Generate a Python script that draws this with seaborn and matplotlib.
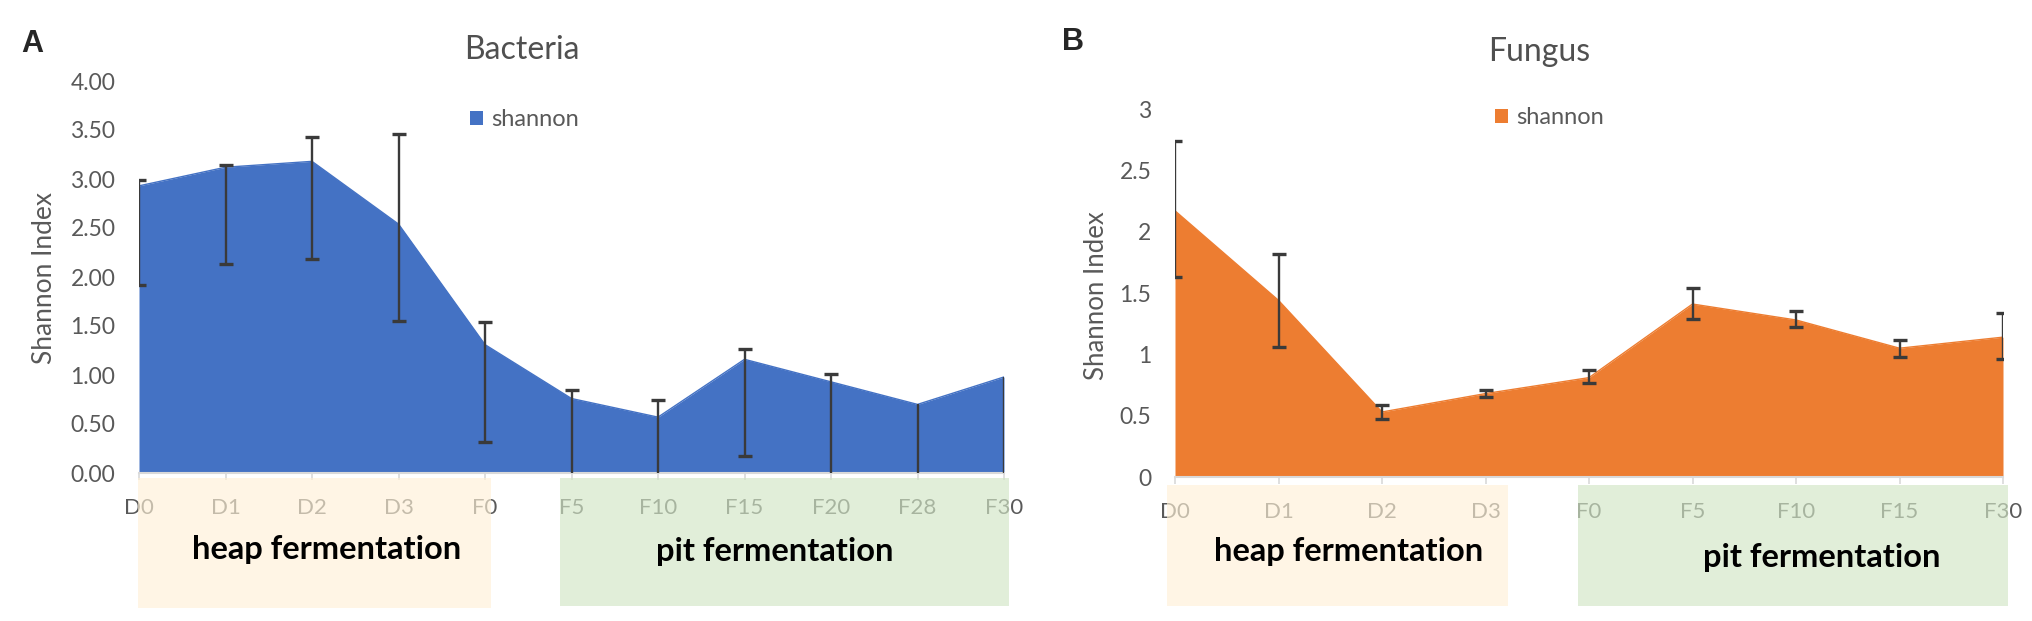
import numpy as np
import matplotlib
matplotlib.use("Agg")
import matplotlib.pyplot as plt
from matplotlib.patches import Rectangle, Patch
from matplotlib.ticker import FuncFormatter
import seaborn as sns

# Bacteria panel (A)
bac_days = ["D0", "D1", "D2", "D3", "F0", "F5", "F10", "F15", "F20", "F28", "F30"]
bac_shannon = [2.93, 3.12, 3.18, 2.54, 1.31, 0.76, 0.57, 1.16, 0.93, 0.70, 0.98]
bac_err_low = [1.92, 2.13, 2.18, 1.55, 0.32, np.nan, np.nan, 0.17, np.nan, np.nan, np.nan]
bac_err_high = [2.99, 3.14, 3.43, 3.46, 1.54, 0.85, 0.74, 1.27, 1.01, np.nan, np.nan]

# Fungus panel (B)
fun_days = ["D0", "D1", "D2", "D3", "F0", "F5", "F10", "F15", "F30"]
fun_shannon = [2.17, 1.44, 0.53, 0.68, 0.81, 1.41, 1.28, 1.05, 1.14]
fun_err_low = [1.63, 1.06, 0.47, 0.65, 0.77, 1.29, 1.22, 0.98, 0.96]
fun_err_high = [2.74, 1.82, 0.59, 0.71, 0.87, 1.54, 1.35, 1.12, 1.34]

W, H = 2033, 621
sns.set_style("white")
plt.rcParams["font.family"] = ["Lato", "DejaVu Sans"]

fig = plt.figure(figsize=(W / 100, H / 100), dpi=100)


def px_box(x0, y0, x1, y1):
    # pixel box (top-left origin) -> figure fraction
    return [x0 / W, 1 - y1 / H, (x1 - x0) / W, (y1 - y0) / H]


def area_panel(ax, days, vals, lo, hi, color, ymax, fmt):
    x = np.arange(len(days))
    vals = np.array(vals, float)
    lo = np.array(lo, float)
    hi = np.array(hi, float)
    ax.fill_between(x, 0, vals, color=color, linewidth=0, zorder=1)
    sns.lineplot(x=x, y=vals, color=color, lw=1, ax=ax, zorder=2)

    ecol = "#3a3a3a"
    bottom = np.where(np.isnan(lo), 0, lo)
    top = np.where(np.isnan(hi), vals, hi)
    ax.vlines(x, bottom, top, color=ecol, lw=1.7, zorder=3)
    m = ~np.isnan(lo)
    ax.plot(x[m], lo[m], ls="none", marker="_", ms=9.5, mew=2.4, color=ecol, zorder=3)
    m = ~np.isnan(hi)
    ax.plot(x[m], hi[m], ls="none", marker="_", ms=9.5, mew=2.4, color=ecol, zorder=3)

    ax.set_xlim(0, len(days) - 1)
    ax.set_ylim(0, ymax)
    ax.set_xticks(x)
    ax.set_xticklabels(days)
    ax.set_yticks(np.arange(0, ymax + 0.01, 0.5))
    ax.yaxis.set_major_formatter(FuncFormatter(fmt))
    for s in ["top", "left", "right"]:
        ax.spines[s].set_visible(False)
    ax.spines["bottom"].set_color("#D9D9D9")
    ax.spines["bottom"].set_linewidth(1.5)
    ax.tick_params(axis="y", length=0, pad=17, labelsize=16.5, labelcolor="#595959")
    ax.tick_params(axis="x", bottom=True, length=5, width=1.2, color="#D9D9D9",
                   direction="out", pad=13, labelsize=16, labelcolor="#595959")
    ax.set_xlabel("")
    ax.set_ylabel("")
    ax.set_facecolor("white")


ax1 = fig.add_axes(px_box(139, 81, 1004, 473))
ax2 = fig.add_axes(px_box(1175, 109, 2003, 477))

area_panel(ax1, bac_days, bac_shannon, bac_err_low, bac_err_high, "#4472C4", 4,
           lambda v, p: f"{v:.2f}")
area_panel(ax2, fun_days, fun_shannon, fun_err_low, fun_err_high, "#ED7D31", 3,
           lambda v, p: f"{v:g}")

# legends
for ax, color, xy in [(ax1, "#4472C4", (470, 120)), (ax2, "#ED7D31", (1495, 118))]:
    ax.legend(handles=[Patch(facecolor=color, edgecolor="none", label="shannon")],
              loc="center left", bbox_to_anchor=(xy[0] / W, 1 - xy[1] / H),
              bbox_transform=fig.transFigure, frameon=False, fontsize=17,
              labelcolor="#595959", handlelength=0.55, handleheight=0.55,
              handletextpad=0.35, borderpad=0, borderaxespad=0)

# titles, axis labels, panel letters
fig.text(522 / W, 1 - 50 / H, "Bacteria", ha="center", va="center", fontsize=23, color="#505050")
fig.text(1539 / W, 1 - 52 / H, "Fungus", ha="center", va="center", fontsize=23, color="#505050")
fig.text(45 / W, 1 - 278 / H, "Shannon Index", rotation=90, ha="center", va="center",
         fontsize=19, color="#595959")
fig.text(1097 / W, 1 - 296 / H, "Shannon Index", rotation=90, ha="center", va="center",
         fontsize=18.5, color="#595959")
fig.text(32 / W, 1 - 44 / H, "A", ha="center", va="center", fontsize=22,
         fontweight="bold", family="Liberation Sans")
fig.text(1073 / W, 1 - 42 / H, "B", ha="center", va="center", fontsize=22,
         fontweight="bold", family="Liberation Sans")

# stage boxes (drawn over the tick labels)
heap_col = (1.0, 0.946, 0.843)
pit_col = (0.825, 0.903, 0.777)
stages = [
    ((138, 478, 491, 608), heap_col, "heap fermentation", (327, 550)),
    ((560, 478, 1009, 606), pit_col, "pit fermentation", (775, 551)),
    ((1167, 485, 1508, 606), heap_col, "heap fermentation", (1349, 551)),
    ((1578, 485, 2008, 606), pit_col, "pit fermentation", (1822, 558)),
]
for (x0, y0, x1, y1), col, label, (tx, ty) in stages:
    l, b, w, h = px_box(x0, y0, x1, y1)
    fig.patches.append(Rectangle((l, b), w, h, transform=fig.transFigure,
                                 facecolor=col, edgecolor="none", alpha=0.65, zorder=10))
    fig.text(tx / W, 1 - ty / H, label, ha="center", va="center", fontsize=23.5,
             fontweight="bold", color="black", zorder=11)

fig.savefig("out.png", dpi=100, facecolor="white")
